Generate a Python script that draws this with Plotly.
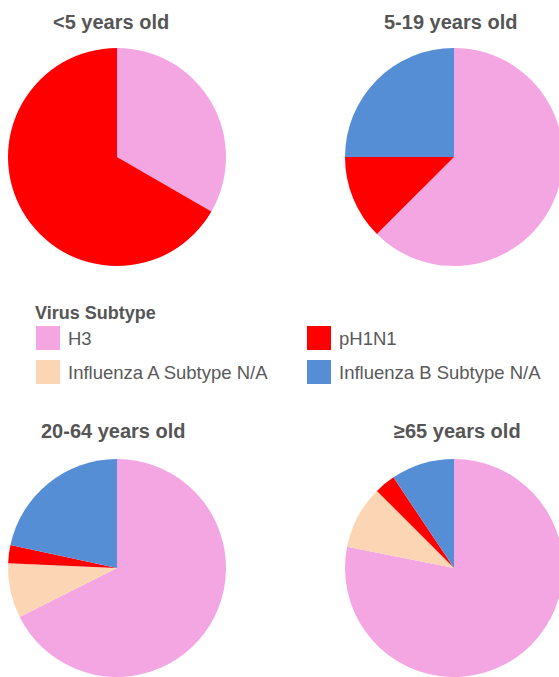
import plotly.graph_objects as go

W, H = 563, 677   # figure is slightly wider than the 559px window; right pies are clipped like the reference

# ---- data ----
age_groups = ["<5 years old", "5-19 years old", "20-64 years old", "≥65 years old"]
# slice order inside each pie (clockwise from 12 o'clock)
pie_order = ["H3", "Influenza A Subtype N/A", "pH1N1", "Influenza B Subtype N/A"]
h3 = [1, 5, 25, 25]
infl_a_na = [0, 0, 3, 3]
ph1n1 = [2, 1, 1, 1]
infl_b_na = [0, 2, 8, 3]

legend_title = "Virus Subtype"
legend_labels = ["H3", "pH1N1", "Influenza A Subtype N/A", "Influenza B Subtype N/A"]

colors = {
    "H3": "#F3A6E1",
    "pH1N1": "#FF0000",
    "Influenza A Subtype N/A": "#FCD5B5",
    "Influenza B Subtype N/A": "#558ED5",
}

# ---- layout helpers (pixel -> paper) ----
def px(x):
    return x / W

def py(y):
    return 1 - y / H

# pie domains in pixels: (x0, x1, ytop, ybottom)
domains = [
    (8, 226, 48, 266),
    (345, 563, 48, 266),
    (8, 226, 459, 677),
    (345, 563, 459, 677),
]
title_pos = [(111, 22), (450, 22), (113, 431), (457, 431)]

fig = go.Figure()
series = [h3, infl_a_na, ph1n1, infl_b_na]
for i, grp in enumerate(age_groups):
    vals = [s[i] for s in series]
    x0, x1, yt, yb = domains[i]
    fig.add_trace(go.Pie(
        labels=pie_order,
        values=vals,
        name=grp,
        sort=False,
        direction="clockwise",
        rotation=0,
        textinfo="none",
        marker=dict(colors=[colors[l] for l in pie_order], line=dict(width=0)),
        showlegend=False,
        domain=dict(x=[px(x0), px(x1)], y=[py(yb), py(yt)]),
        hovertemplate="%{label}: %{value} (%{percent})<extra>" + grp + "</extra>",
    ))

annotations = []
shapes = []
for i, grp in enumerate(age_groups):
    tx, ty = title_pos[i]
    annotations.append(dict(
        text="<b>" + grp + "</b>", x=px(tx), y=py(ty), xref="paper", yref="paper",
        xanchor="center", yanchor="middle", showarrow=False,
        font=dict(family="Liberation Sans, Arial, sans-serif", size=20, color="#555555"),
    ))

# legend (manual, two columns)
annotations.append(dict(
    text="<b>" + legend_title + "</b>", x=px(33), y=py(313), xref="paper", yref="paper",
    xanchor="left", yanchor="middle", showarrow=False,
    font=dict(family="Liberation Sans, Arial, sans-serif", size=18, color="#555555"),
))
col_x = [36, 307]
row_y = [338, 372]
for k, lab in enumerate(legend_labels):
    cx = col_x[k % 2]
    cy = row_y[k // 2]
    shapes.append(dict(
        type="rect", xref="paper", yref="paper",
        x0=px(cx), x1=px(cx + 24), y0=py(cy + 12), y1=py(cy - 12),
        fillcolor=colors[lab], line=dict(width=0),
    ))
    annotations.append(dict(
        text=lab, x=px(cx + 30), y=py(cy), xref="paper", yref="paper",
        xanchor="left", yanchor="middle", showarrow=False,
        font=dict(family="Liberation Sans, Arial, sans-serif", size=18.5, color="#595959"),
    ))

fig.update_layout(
    width=W, height=H,
    margin=dict(l=0, r=0, t=0, b=0),
    paper_bgcolor="white", plot_bgcolor="white",
    annotations=annotations, shapes=shapes,
    showlegend=False,
)

fig.write_html(
    "out.html",
    config={"displayModeBar": False},
    post_script="document.body.style.margin='0';document.body.style.overflow='hidden';"
                "document.documentElement.style.overflow='hidden';",
)
